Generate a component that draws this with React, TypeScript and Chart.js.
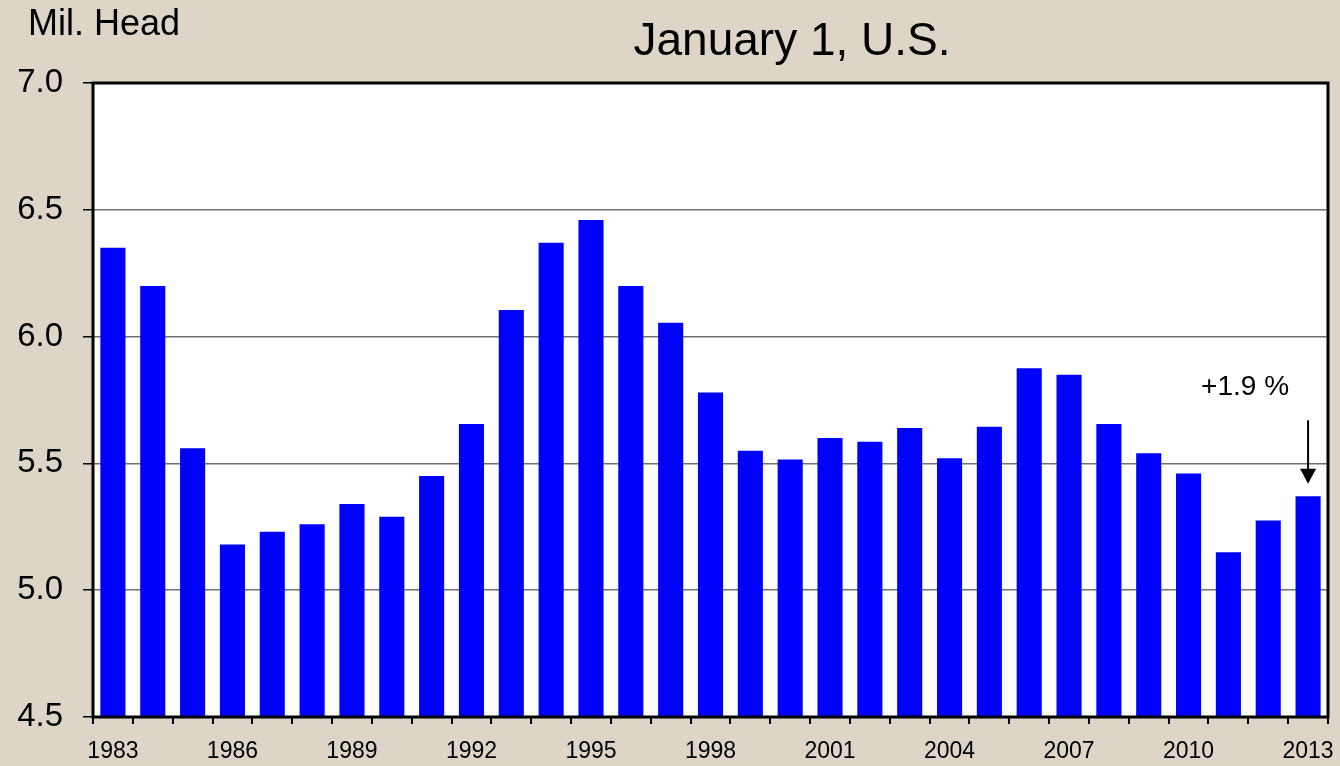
import React, { useEffect, useRef } from 'react';
import { Chart, registerables } from 'chart.js';

Chart.register(...registerables);

const years = [
  '1983', '1984', '1985', '1986', '1987', '1988', '1989', '1990', '1991', '1992',
  '1993', '1994', '1995', '1996', '1997', '1998', '1999', '2000', '2001', '2002',
  '2003', '2004', '2005', '2006', '2007', '2008', '2009', '2010', '2011', '2012', '2013',
];

const headMillions = [
  6.35, 6.2, 5.56, 5.18, 5.23, 5.26, 5.34, 5.29, 5.45, 5.655,
  6.105, 6.37, 6.46, 6.2, 6.055, 5.78, 5.55, 5.515, 5.6, 5.585,
  5.64, 5.52, 5.645, 5.875, 5.85, 5.655, 5.54, 5.46, 5.15, 5.275, 5.37,
];

const yMin = 4.5;
const yMax = 7.0;
const yStep = 0.5;
const labelEvery = 3;

const titleText = 'January 1, U.S.';
const unitText = 'Mil. Head';
const changeText = '+1.9 %';
const arrowTopValue = 5.67;
const arrowTipValue = 5.42;

const FONT = '"Liberation Sans", Arial, Helvetica, sans-serif';
const BG = '#ddd5c7';

const decorPlugin = {
  id: 'decor',
  beforeDraw(chart: any) {
    const { ctx, chartArea } = chart;
    ctx.save();
    ctx.fillStyle = '#ffffff';
    ctx.fillRect(chartArea.left, chartArea.top, chartArea.right - chartArea.left, chartArea.bottom - chartArea.top);
    ctx.restore();
  },
  afterDraw(chart: any) {
    const { ctx, chartArea, scales } = chart;
    ctx.save();
    // frame
    ctx.strokeStyle = '#000';
    ctx.lineWidth = 3;
    ctx.strokeRect(chartArea.left, chartArea.top, chartArea.right - chartArea.left, chartArea.bottom - chartArea.top);

    // texts
    ctx.fillStyle = '#000';
    ctx.textBaseline = 'middle';
    ctx.textAlign = 'left';
    ctx.font = `36px ${FONT}`;
    ctx.fillText(unitText, 28, 25);
    ctx.textAlign = 'center';
    ctx.font = `46px ${FONT}`;
    ctx.fillText(titleText, 792, 42);

    // annotation for last bar
    const lastIdx = headMillions.length - 1;
    const x = scales.x.getPixelForValue(lastIdx);
    const yTop = scales.y.getPixelForValue(arrowTopValue);
    const yTip = scales.y.getPixelForValue(arrowTipValue);
    ctx.font = `28px ${FONT}`;
    ctx.fillText(changeText, x - 63, scales.y.getPixelForValue(5.8));
    ctx.strokeStyle = '#000';
    ctx.lineWidth = 2;
    ctx.beginPath();
    ctx.moveTo(x, yTop);
    ctx.lineTo(x, yTip - 12);
    ctx.stroke();
    ctx.beginPath();
    ctx.moveTo(x - 8, yTip - 15);
    ctx.lineTo(x + 8, yTip - 15);
    ctx.lineTo(x, yTip);
    ctx.closePath();
    ctx.fill();
    ctx.restore();
  },
};

export default function App() {
  const canvasRef = useRef<HTMLCanvasElement | null>(null);

  useEffect(() => {
    document.body.style.margin = '0';
    const canvas = canvasRef.current;
    if (!canvas) return;
    const chart = new Chart(canvas, {
      type: 'bar',
      data: {
        labels: years,
        datasets: [
          {
            data: headMillions,
            backgroundColor: '#0000ff',
            borderWidth: 0,
            categoryPercentage: 1,
            barPercentage: 0.63,
          },
        ],
      },
      options: {
        animation: false,
        responsive: false,
        maintainAspectRatio: false,
        layout: { padding: { top: 83, right: 12, left: 0, bottom: 0 } },
        plugins: {
          legend: { display: false },
          title: { display: false },
          tooltip: { enabled: false },
        },
        scales: {
          x: {
            offset: true,
            border: { display: false },
            grid: {
              offset: true,
              drawOnChartArea: false,
              drawTicks: true,
              tickLength: 7,
              tickColor: '#000',
              lineWidth: 2,
            },
            ticks: {
              autoSkip: false,
              maxRotation: 0,
              minRotation: 0,
              padding: 14,
              color: '#000',
              font: { family: FONT, size: 23 },
              callback: (_v: any, i: number) => (i % labelEvery === 0 ? years[i] : ''),
            },
            afterFit(scale: any) {
              scale.height = 49;
              scale.paddingLeft = 0;
              scale.paddingRight = 0;
            },
          },
          y: {
            min: yMin,
            max: yMax,
            border: { display: false },
            grid: {
              color: '#707070',
              lineWidth: 1.5,
              drawTicks: true,
              tickLength: 10,
              tickColor: '#000',
            },
            ticks: {
              stepSize: yStep,
              padding: 20,
              color: '#000',
              font: { family: FONT, size: 33 },
              callback: (v: any) => Number(v).toFixed(1),
            },
            afterFit(scale: any) {
              scale.width = 93;
              scale.paddingTop = 0;
              scale.paddingBottom = 0;
            },
          },
        },
      },
      plugins: [decorPlugin],
    });
    return () => chart.destroy();
  }, []);

  return (
    <div style={{ position: 'fixed', left: 0, top: 0, width: 1340, height: 766, background: BG }}>
      <canvas ref={canvasRef} width={1340} height={766} style={{ width: 1340, height: 766, display: 'block' }} />
    </div>
  );
}
